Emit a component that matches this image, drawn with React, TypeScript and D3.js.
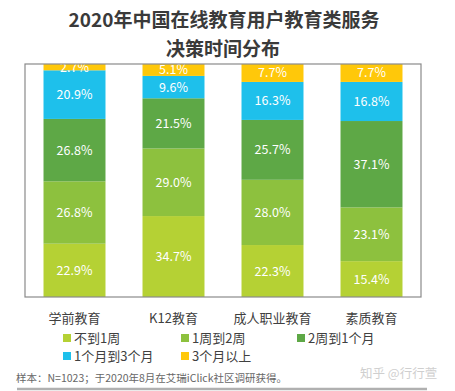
import React from "react";
import * as d3 from "d3";

const categories = ["学前教育", "K12教育", "成人职业教育", "素质教育"];
const seriesNames = ["不到1周", "1周到2周", "2周到1个月", "1个月到3个月", "3个月以上"];
const s1 = [22.9, 34.7, 22.3, 15.4];
const s2 = [26.8, 29.0, 28.0, 23.1];
const s3 = [26.8, 21.5, 25.7, 37.1];
const s4 = [20.9, 9.6, 16.3, 16.8];
const s5 = [2.7, 5.1, 7.7, 7.7];
const colors = ["#B5D134", "#8DC13E", "#5EA846", "#1EC0EB", "#FFC80A"];

const W = 455, H = 391;
const left = 25, right = 421, top = 64, bottom = 297;

export default function App() {
  const series = [s1, s2, s3, s4, s5];
  const rows = categories.map((c, i) => {
    const r: any = { cat: c };
    seriesNames.forEach((n, k) => (r[n] = series[k][i]));
    return r;
  });
  const stacked = d3.stack().keys(seriesNames).offset(d3.stackOffsetExpand)(rows);
  const x = d3.scaleBand().domain(categories).range([left, right]).paddingInner(0.374).paddingOuter(0.187);
  const y = d3.scaleLinear().domain([0, 1]).range([bottom, top]);
  const legendPos = [
    [63, 343], [181, 343], [297, 343],
    [63, 361], [181, 361],
  ];
  const font = "'Microsoft YaHei', 'Noto Sans CJK SC', sans-serif";
  return (
    <svg width={W} height={H} style={{ position: "absolute", left: 0, top: 0 }} fontFamily={font}>
      <rect width={W} height={H} fill="#fff" />
      <text x={224} y={27} textAnchor="middle" fontSize={19} fontWeight="bold" fill="#3a3a3a">2020年中国在线教育用户教育类服务</text>
      <text x={223} y={56} textAnchor="middle" fontSize={19} fontWeight="bold" fill="#3a3a3a">决策时间分布</text>
      {stacked.map((layer, k) => (
        <g key={k}>
          {layer.map((d, i) => (
            <rect key={i} x={x(categories[i])} width={x.bandwidth()} y={y(d[1])} height={y(d[0]) - y(d[1])} fill={colors[k]} />
          ))}
        </g>
      ))}
      {stacked.map((layer, k) => (
        <g key={"t" + k}>
          {layer.map((d, i) => (
            <text key={i} x={(x(categories[i]) as number) + x.bandwidth() / 2} y={(y(d[0]) + y(d[1])) / 2} dy="0.36em" textAnchor="middle" fontSize={12.5} fill="#fff">
              {series[k][i].toFixed(1)}%
            </text>
          ))}
        </g>
      ))}
      <rect x={left} y={top} width={right - left} height={bottom - top} fill="none" stroke="#8a8a8a" strokeWidth={1.2} />
      {categories.map((c, i) => (
        <text key={c} x={(x(c) as number) + x.bandwidth() / 2} y={323} textAnchor="middle" fontSize={13} fill="#404040">{c}</text>
      ))}
      {seriesNames.map((n, k) => (
        <g key={n}>
          <rect x={legendPos[k][0]} y={legendPos[k][1] - 9} width={8} height={8} fill={colors[k]} />
          <text x={legendPos[k][0] + 11} y={legendPos[k][1]} fontSize={13} fill="#404040">{n}</text>
        </g>
      ))}
      <text x={16} y={382} fontSize={10.5} fill="#666">样本：N=1023；于2020年8月在艾瑞iClick社区调研获得。</text>
      <text x={360} y={378} fontSize={12.5} fill="#cfcfcf">知乎 @行行萱</text>
      <line x1={17} x2={427} y1={389} y2={389} stroke="#b0b0b0" strokeWidth={2.5} />
    </svg>
  );
}
